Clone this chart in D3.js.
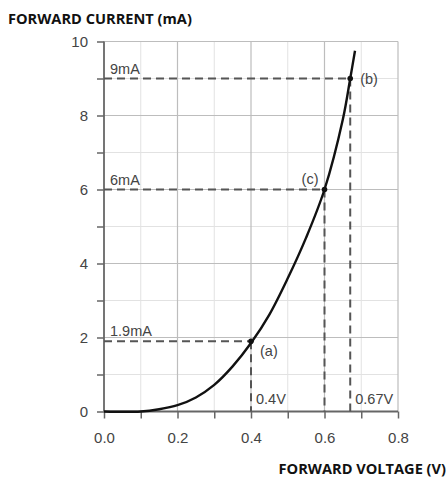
<!DOCTYPE html>
<html><head><meta charset="utf-8">
<script src="https://cdn.jsdelivr.net/npm/d3@7"></script>
<style>body{margin:0;background:#fff}svg{display:block}</style>
</head><body>
<script>
const voltage = [0, 0.1, 0.15, 0.2, 0.25, 0.3, 0.35, 0.4, 0.45, 0.5, 0.55, 0.6, 0.65, 0.67, 0.683];
const current = [0, 0, 0.06, 0.17, 0.38, 0.72, 1.22, 1.85, 2.62, 3.6, 4.7, 6.0, 7.9, 9.0, 9.75];
const markV = [0.4, 0.67, 0.6];
const markI = [1.9, 9, 6];
const markName = ["(a)", "(b)", "(c)"];
const currentLabels = ["1.9mA", "9mA", "6mA"];
const voltageLabels = ["0.4V", "0.67V", null];
const xTicks = [0, 0.2, 0.4, 0.6, 0.8];
const yTicks = [0, 2, 4, 6, 8, 10];

const W = 446, H = 481;
const svg = d3.select("body").append("svg").attr("width", W).attr("height", H);
const x = d3.scaleLinear().domain([0, 0.8]).range([104, 398]);
const y = d3.scaleLinear().domain([0, 10]).range([411.5, 41.5]);

// minor grid
const g = svg.append("g");
d3.range(1, 8, 2).map(i => i / 10).forEach(v => g.append("line").attr("x1", x(v)).attr("x2", x(v)).attr("y1", y(0)).attr("y2", y(10)).attr("stroke", "#e2e2e2").attr("stroke-width", 1));
d3.range(1, 10, 2).forEach(v => g.append("line").attr("x1", x(0)).attr("x2", x(0.8)).attr("y1", y(v)).attr("y2", y(v)).attr("stroke", "#e2e2e2").attr("stroke-width", 1));
// major grid
xTicks.slice(1).forEach(v => g.append("line").attr("x1", x(v)).attr("x2", x(v)).attr("y1", y(0)).attr("y2", y(10)).attr("stroke", "#bdbdbd").attr("stroke-width", 1.2));
yTicks.slice(1).forEach(v => g.append("line").attr("x1", x(0)).attr("x2", x(0.8)).attr("y1", y(v)).attr("y2", y(v)).attr("stroke", "#bdbdbd").attr("stroke-width", 1.2));

// axes
const xAxis = d3.axisBottom(x).tickValues(d3.range(0, 9).map(i => i / 10)).tickSize(7)
  .tickFormat(d => xTicks.some(t => Math.abs(t - d) < 1e-9) ? d.toFixed(1) : "");
const yAxis = d3.axisLeft(y).tickValues(d3.range(0, 11)).tickSize(7)
  .tickFormat(d => d % 2 === 0 ? d : "");
const ax = svg.append("g").attr("transform", `translate(0,${y(0)})`).call(xAxis);
const ay = svg.append("g").attr("transform", `translate(${x(0)},0)`).call(yAxis);
[ax, ay].forEach(a => {
  a.select(".domain").attr("stroke", "#666").attr("stroke-width", 1.8);
  a.selectAll(".tick line").attr("stroke", "#666").attr("stroke-width", 1.5);
  a.selectAll("text").attr("font-family", "Liberation Sans, Arial, sans-serif").attr("font-size", 15).attr("fill", "#444");
});
ax.select(".domain").attr("d", `M${x(0)},0H${x(0.8)}`);
ay.select(".domain").attr("d", `M0,${y(0)}V${y(10)}`);
ax.selectAll("text").attr("dy", "1.4em");
ay.selectAll("text").attr("dx", "-6px");

// dashed guides
const dash = svg.append("g").attr("stroke", "#555").attr("stroke-width", 2).attr("stroke-dasharray", "8,5").attr("fill", "none");
markV.forEach((v, i) => {
  dash.append("line").attr("x1", x(0)).attr("x2", x(v)).attr("y1", y(markI[i])).attr("y2", y(markI[i]));
  dash.append("line").attr("x1", x(v)).attr("x2", x(v)).attr("y1", y(markI[i])).attr("y2", y(0));
});

// curve
const pts = voltage.map((v, i) => [v, current[i]]);
svg.append("path").datum(pts)
  .attr("d", d3.line().x(d => x(d[0])).y(d => y(d[1])).curve(d3.curveCatmullRom.alpha(0.5)))
  .attr("fill", "none").attr("stroke", "#111").attr("stroke-width", 2.4);

// points
markV.forEach((v, i) => svg.append("circle").attr("cx", x(v)).attr("cy", y(markI[i])).attr("r", 2.8).attr("fill", "#111"));

const txt = (s, px, py, anchor) => svg.append("text").attr("x", px).attr("y", py).text(s)
  .attr("font-family", "Liberation Sans, Arial, sans-serif").attr("font-size", 14.5).attr("fill", "#444")
  .attr("text-anchor", anchor || "start");

currentLabels.forEach((s, i) => txt(s, x(0) + 6, y(markI[i]) - 5));
// point names
txt(markName[0], x(markV[0]) + 9, y(markI[0]) + 15);
txt(markName[1], x(markV[1]) + 10, y(markI[1]) + 5);
txt(markName[2], x(markV[2]) - 6, y(markI[2]) - 6, "end");
voltageLabels.forEach((s, i) => { if (s) txt(s, x(markV[i]) + 5, y(0) - 8); });

// titles
svg.append("text").attr("x", 8).attr("y", 24).text("FORWARD CURRENT (mA)")
  .attr("font-family", "Open Sans, sans-serif").attr("font-weight", "bold").attr("font-size", 14.6).attr("fill", "#111");
svg.append("text").attr("x", 446).attr("y", 474).attr("text-anchor", "end").text("FORWARD VOLTAGE (V)")
  .attr("font-family", "Open Sans, sans-serif").attr("font-weight", "bold").attr("font-size", 14.6).attr("fill", "#111");
</script>
</body></html>
